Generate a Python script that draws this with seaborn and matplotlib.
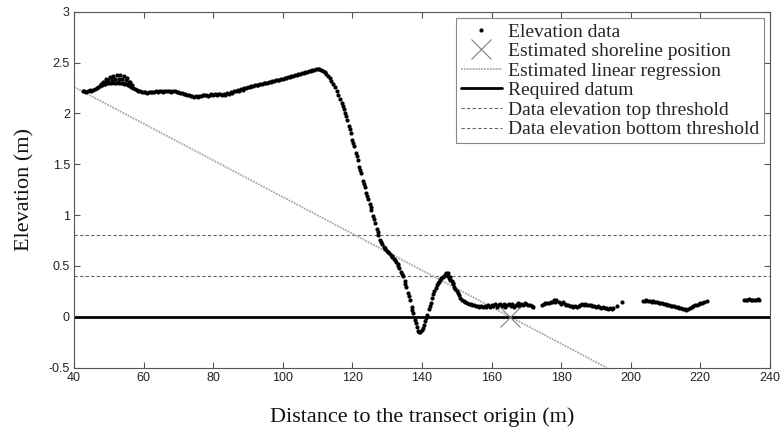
import matplotlib
matplotlib.use("Agg")
import matplotlib.pyplot as plt
import seaborn as sns
import pandas as pd
from matplotlib.lines import Line2D

# ---------------- data ----------------
profile_dist = [
    # backshore / dune top (lower row)
    42.5, 43, 43.5, 44, 44.5, 45, 45.5, 46, 46.5, 47, 47.5, 48, 48.5, 49, 49.5, 50,
    50.5, 51, 51.5, 52, 52.5, 53, 53.5, 54, 54.5, 55, 55.5, 56, 56.5, 57, 57.5, 58,
    # hump, middle row
    47.8, 48.8, 49.8, 50.8, 51.8, 52.8, 53.8, 54.8, 55.8, 56.6,
    # hump, upper row
    48.3, 49.3, 50.3, 51.3, 52.3, 53.3, 54.3, 55.3, 56.2,
    # plateau to crest
    58.5, 59, 59.5, 60, 60.5, 61, 61.5, 62, 62.5, 63, 63.5, 64, 64.5, 65, 65.5, 66,
    66.5, 67, 67.5, 68, 68.5, 69, 69.5, 70, 70.5, 71, 71.5, 72, 72.5, 73, 73.5, 74,
    74.5, 75, 75.5, 76, 76.5, 77, 77.5, 78, 78.5, 79, 79.5, 80, 80.5, 81, 81.5, 82,
    82.5, 83, 83.5, 84, 84.5, 85, 85.5, 86, 86.5, 87, 87.5, 88, 88.5, 89, 89.5, 90,
    90.5, 91, 91.5, 92, 92.5, 93, 93.5, 94, 94.5, 95, 95.5, 96, 96.5, 97, 97.5, 98,
    98.5, 99, 99.5, 100, 100.5, 101, 101.5, 102, 102.5, 103, 103.5, 104, 104.5, 105,
    105.5, 106, 106.5, 107, 107.5, 108, 108.5, 109, 109.5, 110, 110.5, 111, 111.5,
    112, 112.5, 113, 113.5, 114, 114.5, 115, 115.5, 116, 116.5,
    # steep face
    117, 117.25, 117.5, 118, 118.25, 118.5, 119, 119.25, 119.5, 120, 120.25, 120.5,
    121, 121.25, 121.5, 122, 122.25, 122.5, 123, 123.25, 123.5, 124, 124.25, 124.5,
    125, 125.25, 125.5, 126, 126.25, 126.5, 127, 127.25, 127.5, 128, 128.25, 128.5,
    129, 129.25, 129.5, 130, 130.25, 130.5, 131, 131.25, 131.5, 132, 132.25, 132.5,
    133, 133.25, 133.5, 134, 134.25, 134.5, 135, 135.25, 135.5, 136, 136.25, 136.5,
    137, 137.25, 137.5, 138, 138.25, 138.5, 139, 139.25, 139.5, 140, 140.25, 140.5,
    141, 141.25, 141.5, 142, 142.25, 142.5, 143, 143.25, 143.5, 144, 144.25, 144.5,
    145, 145.25, 145.5, 146, 146.25, 146.5,
    # bar crest and trough
    146.8, 147, 147.2, 147.4, 147.6, 147.8, 148, 148.2, 148.5, 148.8, 149, 149.3,
    149.6, 150, 150.3, 150.6, 151, 151.5, 152, 152.5, 153,
    153.5, 154, 154.5, 155, 155.5, 156, 156.5, 157, 157.5, 158, 158.5, 159, 159.5,
    160, 160.5, 161, 161.5, 162, 162.5, 163, 163.5, 164, 164.5, 165, 165.5, 166,
    166.5, 167, 167.5, 168, 168.5, 169, 169.5, 170, 170.5, 171, 171.5, 172,
    # second stretch
    174.5, 175, 175.5, 176, 176.5, 177, 177.5, 178, 178.3, 178.6, 179.5, 180, 180.5,
    181, 181.5, 182, 182.5, 183, 183.5, 184, 184.5, 185, 185.5, 186, 186.5, 187,
    187.5, 188, 188.5, 189, 189.5, 190, 190.5, 191, 191.5, 192, 192.5, 193, 193.5,
    194, 194.5, 195, 196, 197.5,
    # third stretch
    203.5, 204, 204.5, 205, 205.5, 206, 206.5, 207, 207.5, 208, 208.5, 209, 209.5,
    210, 210.5, 211, 211.5, 212, 212.5, 213, 213.5, 214, 214.5, 215, 215.5, 216,
    216.5, 217, 217.5, 218, 218.5, 219, 219.5, 220, 220.5, 221, 222,
    # last stretch
    232.5, 233, 233.5, 234, 234.5, 235, 235.5, 236, 236.5, 237,
]

profile_elev = [
    2.22, 2.22, 2.21, 2.22, 2.23, 2.22, 2.23, 2.24, 2.25, 2.26, 2.27, 2.28, 2.29, 2.29, 2.30, 2.30,
    2.30, 2.31, 2.30, 2.30, 2.31, 2.30, 2.30, 2.30, 2.29, 2.29, 2.28, 2.27, 2.26, 2.25, 2.24, 2.23,
    2.29, 2.31, 2.33, 2.34, 2.34, 2.34, 2.34, 2.33, 2.31, 2.28,
    2.31, 2.34, 2.36, 2.37, 2.38, 2.38, 2.37, 2.35, 2.31,
    2.22, 2.22, 2.21, 2.21, 2.21, 2.20, 2.21, 2.21, 2.21, 2.21, 2.22, 2.21, 2.22, 2.22, 2.21, 2.22,
    2.22, 2.22, 2.22, 2.21, 2.22, 2.22, 2.21, 2.21, 2.20, 2.20, 2.19, 2.19, 2.18, 2.18, 2.17, 2.17,
    2.16, 2.17, 2.16, 2.17, 2.17, 2.18, 2.18, 2.18, 2.17, 2.18, 2.19, 2.18, 2.19, 2.18, 2.19, 2.19,
    2.18, 2.19, 2.18, 2.20, 2.19, 2.21, 2.20, 2.22, 2.22, 2.23, 2.22, 2.24, 2.23, 2.25, 2.25, 2.26,
    2.26, 2.27, 2.27, 2.28, 2.28, 2.28, 2.29, 2.29, 2.30, 2.30, 2.30, 2.31, 2.31, 2.32, 2.32, 2.33,
    2.33, 2.33, 2.34, 2.34, 2.35, 2.35, 2.36, 2.36, 2.37, 2.37, 2.38, 2.38, 2.39, 2.39,
    2.40, 2.40, 2.41, 2.41, 2.42, 2.42, 2.43, 2.43, 2.44, 2.44, 2.44, 2.43, 2.42,
    2.41, 2.39, 2.37, 2.35, 2.32, 2.29, 2.26, 2.22, 2.18, 2.14,
    2.10, 2.07, 2.04, 2.00, 1.97, 1.94, 1.88, 1.85, 1.81, 1.74, 1.71, 1.68,
    1.61, 1.58, 1.54, 1.47, 1.44, 1.41, 1.34, 1.31, 1.28, 1.22, 1.19, 1.16,
    1.11, 1.08, 1.05, 0.99, 0.96, 0.92, 0.86, 0.83, 0.80, 0.76, 0.74, 0.72,
    0.69, 0.68, 0.67, 0.65, 0.64, 0.63, 0.61, 0.60, 0.59, 0.57, 0.56, 0.54,
    0.52, 0.50, 0.48, 0.44, 0.42, 0.40, 0.35, 0.32, 0.29, 0.23, 0.20, 0.17,
    0.10, 0.07, 0.04, -0.03, -0.06, -0.10, -0.14, -0.15, -0.15, -0.13, -0.11, -0.08,
    -0.04, -0.01, 0.02, 0.08, 0.11, 0.14, 0.19, 0.22, 0.25, 0.28, 0.31, 0.33,
    0.34, 0.36, 0.38, 0.39, 0.40, 0.41,
    0.43, 0.42, 0.41, 0.43, 0.40, 0.38, 0.39, 0.36, 0.35, 0.32, 0.33, 0.29,
    0.27, 0.25, 0.23, 0.21, 0.19, 0.17, 0.16, 0.15, 0.14,
    0.13, 0.13, 0.12, 0.12, 0.11, 0.11, 0.10, 0.11, 0.10, 0.11, 0.10, 0.12, 0.10,
    0.12, 0.11, 0.13, 0.10, 0.12, 0.13, 0.11, 0.13, 0.10, 0.12, 0.13, 0.11, 0.13,
    0.10, 0.12, 0.14, 0.11, 0.13, 0.12, 0.14, 0.13, 0.12, 0.12, 0.11, 0.10,
    0.12, 0.13, 0.14, 0.14, 0.14, 0.15, 0.15, 0.17, 0.15, 0.17, 0.15, 0.13, 0.15,
    0.13, 0.12, 0.12, 0.11, 0.11, 0.10, 0.11, 0.10, 0.11, 0.12, 0.13, 0.12, 0.13,
    0.12, 0.12, 0.12, 0.11, 0.11, 0.10, 0.11, 0.10, 0.09, 0.10, 0.09, 0.09, 0.08,
    0.09, 0.08, 0.09, 0.11, 0.15,
    0.16, 0.16, 0.17, 0.16, 0.16, 0.15, 0.16, 0.15, 0.15, 0.14, 0.14, 0.14, 0.13,
    0.13, 0.12, 0.12, 0.11, 0.11, 0.11, 0.10, 0.10, 0.09, 0.09, 0.08, 0.08, 0.07,
    0.08, 0.09, 0.10, 0.11, 0.12, 0.12, 0.13, 0.14, 0.14, 0.15, 0.16,
    0.17, 0.17, 0.17, 0.18, 0.17, 0.17, 0.17, 0.17, 0.18, 0.17,
]

regression_dist = [40.0, 193.1]
regression_elev = [2.26, -0.50]
shoreline_dist = [165.3]
shoreline_elev = [0.0]
required_datum = 0.0
top_threshold = 0.8
bottom_threshold = 0.4

x_ticks = [40, 60, 80, 100, 120, 140, 160, 180, 200, 220, 240]
x_tick_labels = ["40", "60", "80", "100", "120", "140", "160", "180", "200", "220", "240"]
y_ticks = [-0.5, 0, 0.5, 1, 1.5, 2, 2.5, 3]
y_tick_labels = ["-0.5", "0", "0.5", "1", "1.5", "2", "2.5", "3"]

legend_labels = [
    "Elevation data",
    "Estimated shoreline position",
    "Estimated linear regression",
    "Required datum",
    "Data elevation top threshold",
    "Data elevation bottom threshold",
]

# ---------------- style ----------------
sns.set_style("ticks")
plt.rcParams["font.family"] = ["Liberation Sans", "DejaVu Sans"]
serif = ["Liberation Serif", "DejaVu Serif"]

fig, ax = plt.subplots(figsize=(7.84, 4.29), dpi=100)
fig.subplots_adjust(left=0.0944, right=0.982, top=0.9727, bottom=0.1429)

axis_grey = "#555555"
reg_style = dict(color="#a8a8a8", linestyle=(0, (1, 0.6)), linewidth=1.3)
thr_style = dict(color="#666666", linestyle=(0, (3, 2)), linewidth=0.8)
datum_style = dict(color="black", linestyle="-", linewidth=2.0)

df = pd.DataFrame({"dist": profile_dist, "elev": profile_elev})
reg_df = pd.DataFrame({"dist": regression_dist, "elev": regression_elev})

sns.lineplot(data=reg_df, x="dist", y="elev", ax=ax, zorder=2, **reg_style)
ax.axhline(required_datum, zorder=2, **datum_style)
ax.axhline(top_threshold, zorder=1, **thr_style)
ax.axhline(bottom_threshold, zorder=1, **thr_style)
sns.scatterplot(data=df, x="dist", y="elev", ax=ax, s=9, color="black",
                linewidth=0, zorder=3)
ax.plot(shoreline_dist, shoreline_elev, linestyle="none", marker="x",
        markersize=14, markeredgewidth=0.8, color="#808080", zorder=4)

ax.set_xlim(40, 240)
ax.set_ylim(-0.5, 3)
ax.set_xticks(x_ticks)
ax.set_xticklabels(x_tick_labels)
ax.set_yticks(y_ticks)
ax.set_yticklabels(y_tick_labels)
ax.tick_params(direction="in", top=True, right=True, length=4, width=0.8,
               color=axis_grey, labelsize=9, labelcolor="#222222", pad=3)
for s in ax.spines.values():
    s.set_color(axis_grey)
    s.set_linewidth(0.8)

ax.set_xlabel("Distance to the transect origin (m)", fontfamily=serif,
              fontsize=16, color="#111111", labelpad=17)
ax.set_ylabel("Elevation (m)", fontfamily=serif, fontsize=16,
              color="#111111", labelpad=10)

handles = [
    Line2D([], [], linestyle="none", marker=".", markersize=4, color="black"),
    Line2D([], [], linestyle="none", marker="x", markersize=14,
           markeredgewidth=0.8, color="#808080"),
    Line2D([], [], **reg_style),
    Line2D([], [], **datum_style),
    Line2D([], [], **thr_style),
    Line2D([], [], **thr_style),
]
leg = ax.legend(handles, legend_labels, loc="upper right",
                bbox_to_anchor=(0.991, 0.982), borderaxespad=0,
                prop={"family": serif, "size": 14}, frameon=True,
                fancybox=False, framealpha=1, edgecolor="#888888",
                labelspacing=0.1, handlelength=2.1, handletextpad=0.3,
                borderpad=0.25)
leg.get_frame().set_linewidth(0.8)

fig.savefig("out.png", dpi=100)
